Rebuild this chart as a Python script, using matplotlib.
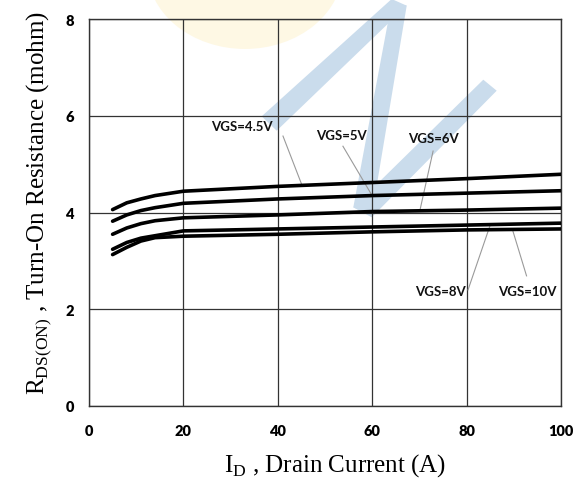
import matplotlib
matplotlib.use("Agg")
import matplotlib.pyplot as plt
from matplotlib.patches import Polygon, Circle

# drain current (A) and on-resistance (mohm)
drain_current = [5, 8, 11, 14, 20, 40, 60, 80, 100]
rds_vgs_4v5 = [4.06, 4.20, 4.28, 4.35, 4.44, 4.54, 4.62, 4.70, 4.79]
rds_vgs_5v = [3.82, 3.95, 4.04, 4.10, 4.19, 4.28, 4.35, 4.40, 4.45]
rds_vgs_6v = [3.55, 3.68, 3.77, 3.83, 3.89, 3.95, 4.02, 4.05, 4.09]
rds_vgs_8v = [3.24, 3.38, 3.47, 3.52, 3.62, 3.66, 3.70, 3.74, 3.78]
rds_vgs_10v = [3.13, 3.28, 3.41, 3.48, 3.51, 3.55, 3.60, 3.64, 3.66]

x_ticks = [0, 20, 40, 60, 80, 100]
y_ticks = [0, 2, 4, 6, 8]

# curve labels: text, text position, leader line start, leader line end
labels = [
    ("VGS=4.5V", (32.4, 5.79), (41.1, 5.58), (45.1, 4.57)),
    ("VGS=5V", (53.5, 5.60), (53.8, 5.37), (60.1, 4.33)),
    ("VGS=6V", (72.9, 5.54), (72.9, 5.27), (70.1, 4.04)),
    ("VGS=8V", (74.4, 2.38), (80.3, 2.40), (85.0, 3.74)),
    ("VGS=10V", (92.8, 2.38), (92.7, 2.69), (89.8, 3.62)),
]

W, H = 587, 485
fig = plt.figure(figsize=(W / 100, H / 100), dpi=100)
fig.patch.set_facecolor("white")
ax = fig.add_axes([89 / W, 1 - 407 / H, (561 - 89) / W, (407 - 20) / H])
ax.set_facecolor("none")


def px(x, y):
    return (x / W, 1 - y / H)


# faint watermark behind the chart
fig.add_artist(Circle(px(245, -31), 98 / W, transform=fig.transFigure,
                      facecolor="#fef8e4", edgecolor="none", zorder=-2))
blue = "#cadcec"
for poly in [
    [(261.7, 117.3), (391.7, 0), (406.7, 6.7), (276.7, 131.7)],
    [(391.7, 3), (406.7, 6.7), (371.7, 216.7), (353.3, 208.3)],
    [(353.3, 208.3), (483.3, 80.7), (496.7, 91.7), (371.7, 218.3)],
]:
    fig.add_artist(Polygon([px(a, b) for a, b in poly], closed=True,
                           transform=fig.transFigure, facecolor=blue,
                           edgecolor="none", zorder=-1))

for series in [rds_vgs_4v5, rds_vgs_5v, rds_vgs_6v, rds_vgs_8v, rds_vgs_10v]:
    ax.plot(drain_current, series, color="black", lw=2.6,
            solid_capstyle="round", zorder=3)

for text, pos, p0, p1 in labels:
    ax.text(pos[0], pos[1], text, ha="center", va="center", fontsize=9.5,
            fontweight="bold", family="Lato", color="#111111", zorder=4)
    ax.plot([p0[0], p1[0]], [p0[1], p1[1]], color="#9a9a9a", lw=0.8, zorder=2)

ax.set_xlim(0, 100)
ax.set_ylim(0, 8)
ax.set_xticks(x_ticks)
ax.set_yticks(y_ticks)
ax.grid(True, color="#333333", lw=0.9)
ax.tick_params(length=0, pad=11)
ax.tick_params(axis="x", pad=13)
for lab in ax.get_xticklabels() + ax.get_yticklabels():
    lab.set_fontfamily("Lato")
    lab.set_fontweight("heavy")
    lab.set_fontsize(10.5)
for s in ax.spines.values():
    s.set_color("#333333")
    s.set_linewidth(1.0)

plt.rcParams["mathtext.fontset"] = "custom"
plt.rcParams["mathtext.rm"] = "Liberation Serif"
fig.text(335 / W, 1 - 466 / H, r"I$_\mathrm{D}$ , Drain Current (A)",
         ha="center", va="center", fontsize=18, family="Liberation Serif")
fig.text(39 / W, 1 - 203 / H,
         r"R$_\mathrm{DS(ON)}$ , Turn-On Resistance (mohm)",
         ha="center", va="center", rotation=90, fontsize=18,
         family="Liberation Serif")

fig.savefig("out.png", dpi=100)
